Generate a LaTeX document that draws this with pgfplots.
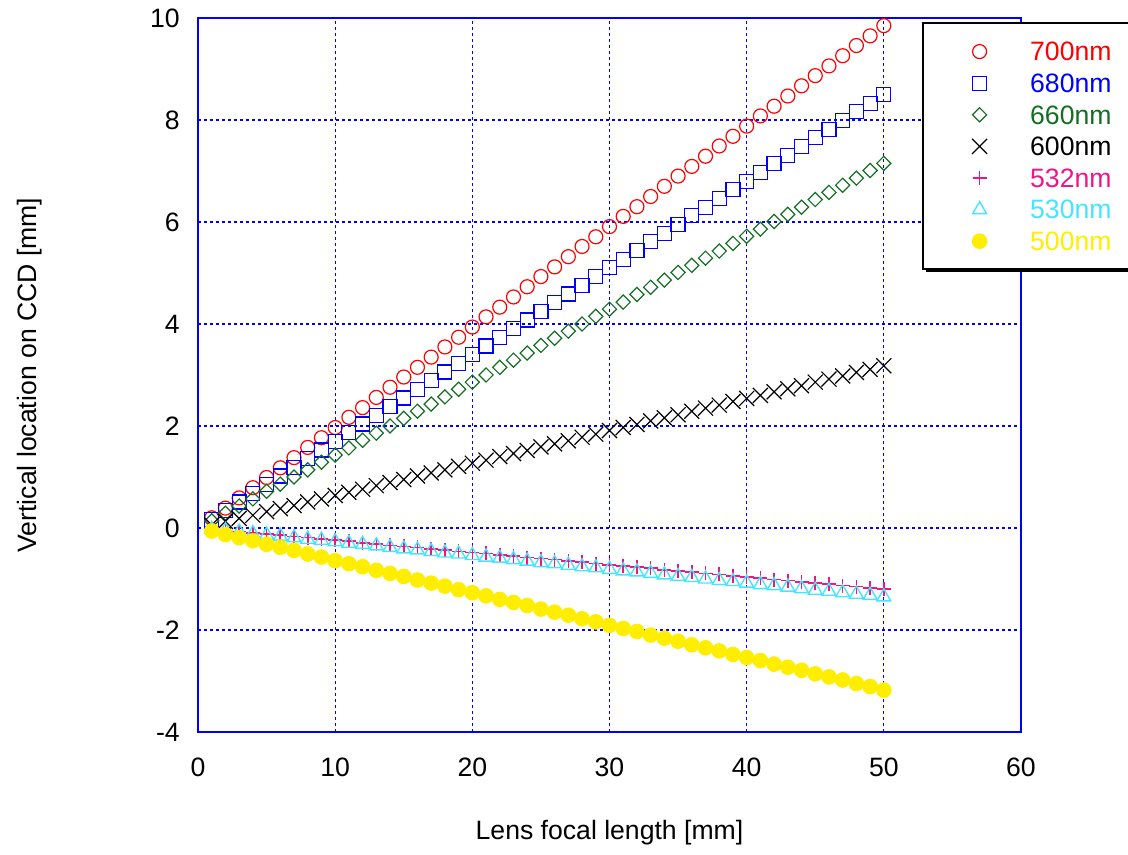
\documentclass[border=0pt]{standalone}
\usepackage{pgfplots}
\pgfplotsset{compat=1.18}
\usepackage{pgfplotstable}
\usepackage{fontspec}
\setmainfont{Liberation Sans}
\usetikzlibrary{shadows}
\definecolor{cRed}{RGB}{255,0,0}
\definecolor{cBlue}{RGB}{0,0,255}
\definecolor{cGreen}{RGB}{20,110,35}
\definecolor{cPink}{RGB}{240,20,135}
\definecolor{cCyan}{RGB}{70,228,255}
\definecolor{cYellow}{RGB}{255,238,0}
\pgfplotstableread{
x a700 a680 a660 a600 a532 a530 a500
1 0.20 0.17 0.14 0.06 -0.02 -0.03 -0.06
2 0.39 0.34 0.29 0.13 -0.05 -0.05 -0.13
3 0.59 0.51 0.43 0.19 -0.07 -0.08 -0.19
4 0.79 0.68 0.57 0.25 -0.10 -0.11 -0.25
5 0.99 0.85 0.72 0.32 -0.12 -0.14 -0.32
6 1.18 1.02 0.86 0.38 -0.14 -0.16 -0.38
7 1.38 1.19 1.00 0.44 -0.17 -0.19 -0.44
8 1.58 1.36 1.14 0.51 -0.19 -0.22 -0.51
9 1.77 1.53 1.29 0.57 -0.22 -0.24 -0.57
10 1.97 1.70 1.43 0.64 -0.24 -0.27 -0.64
11 2.17 1.87 1.57 0.70 -0.26 -0.30 -0.70
12 2.36 2.04 1.72 0.76 -0.29 -0.32 -0.76
13 2.56 2.21 1.86 0.83 -0.31 -0.35 -0.83
14 2.76 2.38 2.00 0.89 -0.34 -0.38 -0.89
15 2.96 2.55 2.15 0.95 -0.36 -0.41 -0.95
16 3.15 2.72 2.29 1.02 -0.38 -0.43 -1.02
17 3.35 2.89 2.43 1.08 -0.41 -0.46 -1.08
18 3.55 3.06 2.57 1.14 -0.43 -0.49 -1.14
19 3.74 3.23 2.72 1.21 -0.46 -0.51 -1.21
20 3.94 3.40 2.86 1.27 -0.48 -0.54 -1.27
21 4.14 3.57 3.00 1.33 -0.50 -0.57 -1.33
22 4.33 3.74 3.15 1.40 -0.53 -0.59 -1.40
23 4.53 3.91 3.29 1.46 -0.55 -0.62 -1.46
24 4.73 4.08 3.43 1.52 -0.58 -0.65 -1.52
25 4.93 4.25 3.58 1.59 -0.60 -0.68 -1.59
26 5.12 4.42 3.72 1.65 -0.62 -0.70 -1.65
27 5.32 4.59 3.86 1.71 -0.65 -0.73 -1.71
28 5.52 4.76 4.00 1.78 -0.67 -0.76 -1.78
29 5.71 4.93 4.15 1.84 -0.70 -0.78 -1.84
30 5.91 5.10 4.29 1.91 -0.72 -0.81 -1.91
31 6.11 5.27 4.43 1.97 -0.74 -0.84 -1.97
32 6.30 5.44 4.58 2.03 -0.77 -0.86 -2.03
33 6.50 5.61 4.72 2.10 -0.79 -0.89 -2.10
34 6.70 5.78 4.86 2.16 -0.82 -0.92 -2.16
35 6.90 5.95 5.01 2.22 -0.84 -0.95 -2.22
36 7.09 6.12 5.15 2.29 -0.86 -0.97 -2.29
37 7.29 6.29 5.29 2.35 -0.89 -1.00 -2.35
38 7.49 6.46 5.43 2.41 -0.91 -1.03 -2.41
39 7.68 6.63 5.58 2.48 -0.94 -1.05 -2.48
40 7.88 6.80 5.72 2.54 -0.96 -1.08 -2.54
41 8.08 6.97 5.86 2.60 -0.98 -1.11 -2.60
42 8.27 7.14 6.01 2.67 -1.01 -1.13 -2.67
43 8.47 7.31 6.15 2.73 -1.03 -1.16 -2.73
44 8.67 7.48 6.29 2.79 -1.06 -1.19 -2.79
45 8.87 7.65 6.44 2.86 -1.08 -1.22 -2.86
46 9.06 7.82 6.58 2.92 -1.10 -1.24 -2.92
47 9.26 7.99 6.72 2.98 -1.13 -1.27 -2.98
48 9.46 8.16 6.86 3.05 -1.15 -1.30 -3.05
49 9.65 8.33 7.01 3.11 -1.18 -1.32 -3.11
50 9.85 8.50 7.15 3.18 -1.20 -1.35 -3.18
}\datatable
\begin{document}
\begin{tikzpicture}[font=\fontsize{13.3pt}{16pt}\selectfont]
\useasboundingbox (-99pt,-61.5pt) rectangle (465pt,366pt);
\begin{axis}[
  at={(0,0)}, anchor=south west,
  width=411.5pt, height=357pt, scale only axis,
  xmin=0, xmax=60, ymin=-4, ymax=10,
  xtick={0,10,...,60}, ytick={-4,-2,...,10},
  grid=major,
  major grid style={draw=cBlue, dash pattern=on 1.5pt off 1.5pt, line width=0.6pt},
  axis line style={draw=cBlue, line width=0.6pt},
  major tick length=0pt,
  /pgf/number format/assume math mode=true,
  xticklabel style={yshift=-9.6pt},
  yticklabel style={xshift=-5.6pt},
  every axis x label/.style={at={(axis description cs:0.5,0)}, yshift=-50.5pt, anchor=center},
  every axis y label/.style={at={(axis description cs:0,0.5)}, xshift=-84pt, rotate=90, anchor=center},
  xlabel={Lens focal length [mm]},
  ylabel={Vertical location on CCD [mm]},
  legend image code/.code={\path (-22pt,0pt) (22pt,0pt); \draw[#1] plot coordinates {(0pt,-0.3pt)};},
  legend style={at={(axis description cs:0.8797,0.9944)}, anchor=north west,
    draw=black, line width=1pt, fill=white,
    drop shadow={shadow xshift=1.5pt, shadow yshift=-1.5pt, fill=black, opacity=1},
    inner xsep=6pt, inner ysep=9pt, row sep=5.8pt,
    nodes={inner xsep=3pt, inner ysep=0pt, text height=10pt, text depth=0pt},
    cells={anchor=west}},
  every axis plot/.append style={only marks, line width=0.6pt},
]
\addplot[cRed, mark=o, mark size=3.5pt] table[x=x,y=a700]{\datatable};
\addlegendentry{\textcolor{cRed}{700nm}}
\addplot[cBlue, mark=square, mark size=3.5pt] table[x=x,y=a680]{\datatable};
\addlegendentry{\textcolor{cBlue}{680nm}}
\addplot[cGreen, mark=square, mark size=2.5pt, mark options={rotate=45}] table[x=x,y=a660]{\datatable};
\addlegendentry{\textcolor{cGreen}{660nm}}
\addplot[black, mark=x, mark size=5.3pt] table[x=x,y=a600]{\datatable};
\addlegendentry{\textcolor{black}{600nm}}
\addplot[cPink, mark=+, mark size=3.5pt, mark options={line width=0.8pt}] table[x=x,y=a532]{\datatable};
\addlegendentry{\textcolor{cPink}{532nm}}
\addplot[cCyan, mark=triangle, mark size=4pt, mark options={line width=0.7pt}] table[x=x,y=a530]{\datatable};
\addlegendentry{\textcolor{cCyan}{530nm}}
\addplot[cYellow, mark=*, mark size=3.6pt, mark options={draw=cYellow, fill=cYellow}] table[x=x,y=a500]{\datatable};
\addlegendentry{\textcolor{cYellow}{500nm}}
\end{axis}
\end{tikzpicture}
\end{document}
